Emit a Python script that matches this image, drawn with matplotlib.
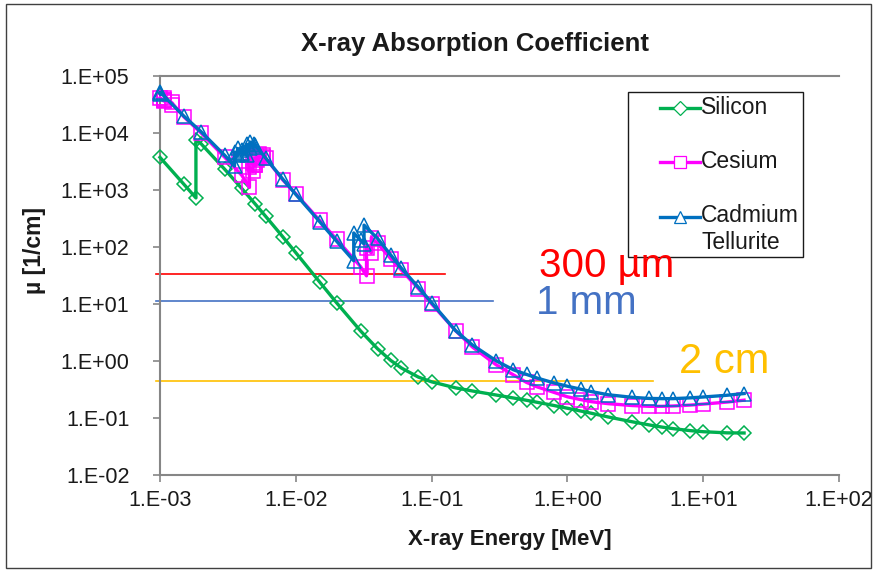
import numpy as np
import matplotlib
matplotlib.use("Agg")
import matplotlib.pyplot as plt
from matplotlib.lines import Line2D
from matplotlib.patches import Rectangle

# ---------------- data (energy in MeV, mu in 1/cm) ----------------
si_energy = [1.0e-3, 1.5e-3, 1.839e-3, 1.839e-3, 2e-3, 3e-3, 4e-3, 5e-3, 6e-3, 8e-3,
             1e-2, 1.5e-2, 2e-2, 3e-2, 4e-2, 5e-2, 6e-2, 8e-2, 0.1, 0.15, 0.2, 0.3,
             0.4, 0.5, 0.6, 0.8, 1.0, 1.25, 1.5, 2.0, 3.0, 4.0, 5.0, 6.0, 8.0, 10.0,
             15.0, 20.0]
si_mu = [3700, 1248, 720, 7440, 6470, 2280, 1055, 571, 342, 151,
         79, 24.1, 10.4, 3.35, 1.63, 1.02, 0.75, 0.52, 0.43, 0.337, 0.297, 0.252,
         0.224, 0.204, 0.188, 0.165, 0.148, 0.1325, 0.121, 0.104, 0.0857, 0.0755, 0.069, 0.065, 0.060, 0.0574,
         0.0548, 0.0545]

cs_energy = [1.0e-3, 1.065e-3, 1.065e-3, 1.072e-3, 1.072e-3, 1.217e-3, 1.217e-3, 1.5e-3, 2e-3,
             3e-3, 4e-3, 4.557e-3, 4.557e-3, 4.852e-3, 4.852e-3, 5.0e-3, 5.012e-3, 5.012e-3,
             5.188e-3, 5.188e-3, 5.359e-3, 5.359e-3, 5.714e-3, 5.714e-3, 6e-3, 8e-3, 1e-2,
             1.5e-2, 2e-2, 3e-2, 3.317e-2, 3.317e-2, 3.598e-2, 3.598e-2, 4e-2, 5e-2, 6e-2,
             8e-2, 0.1, 0.15, 0.2, 0.3, 0.4, 0.5, 0.6, 0.8, 1.0, 1.25, 1.5, 2.0, 3.0, 4.0,
             5.0, 6.0, 8.0, 10.0, 15.0, 20.0]
cs_mu = [41000, 36000, 38000, 37500, 40000, 31000, 34000, 19000, 10000,
         3700, 1800, 1100, 2500, 2100, 2900, 2700, 2700, 3600,
         3300, 3900, 3600, 4200, 3700, 4100, 3600, 1500, 850,
         290, 135, 45, 31, 95, 78, 145, 115, 62, 39,
         18.5, 10.0, 3.4, 1.75, 0.85, 0.57, 0.42, 0.35, 0.28, 0.235, 0.21, 0.193, 0.178, 0.165, 0.16,
         0.16, 0.162, 0.168, 0.175, 0.19, 0.205]

cdte_energy = [1.0e-3, 1.006e-3, 1.006e-3, 1.5e-3, 2e-3, 3e-3, 3.538e-3, 3.538e-3, 3.727e-3,
               3.727e-3, 4.0e-3, 4.018e-3, 4.018e-3, 4.341e-3, 4.341e-3, 4.612e-3, 4.612e-3,
               4.939e-3, 4.939e-3, 5e-3, 6e-3, 8e-3, 1e-2, 1.5e-2, 2e-2, 2.671e-2, 2.671e-2,
               3e-2, 3.181e-2, 3.181e-2, 4e-2, 5e-2, 6e-2, 8e-2, 0.1, 0.15, 0.2, 0.3, 0.4,
               0.5, 0.6, 0.8, 1.0, 1.25, 1.5, 2.0, 3.0, 4.0, 5.0, 6.0, 8.0, 10.0, 15.0, 20.0]
cdte_mu = [49000, 47000, 51000, 19500, 10500, 4000, 2600, 4600, 4000,
           5300, 4400, 4300, 5000, 4100, 6300, 5400, 6800,
           5700, 6400, 6200, 3600, 1550, 830, 275, 125, 57, 175,
           130, 112, 240, 140, 72, 42, 19.5, 10.5, 3.4, 1.9, 1.0, 0.7,
           0.58, 0.5, 0.41, 0.36, 0.32, 0.29, 0.255, 0.23, 0.22, 0.218, 0.218, 0.225, 0.233, 0.25, 0.268]

series_names = ["Silicon", "Cesium", "Cadmium\nTellurite"]
series_colors = ["#00B050", "#FF00FF", "#0070C0"]
series_markers = ["D", "s", "^"]

thickness_labels = ["300 \u00b5m", "1 mm", "2 cm"]
thickness_mu = [34, 11.4, 0.445]
thickness_xend = [0.126, 0.283, 4.3]
thickness_colors = ["#FF0000", "#4472C4", "#FFC000"]

x_ticks = [1e-3, 1e-2, 1e-1, 1e0, 1e1, 1e2]
y_ticks = [1e-2, 1e-1, 1e0, 1e1, 1e2, 1e3, 1e4, 1e5]

# ---------------- figure ----------------
W, H = 877, 573
fig = plt.figure(figsize=(W / 100, H / 100), dpi=100)
FONT = "Liberation Sans"
plt.rcParams["font.family"] = [FONT, "DejaVu Sans"]

def fx(px):
    return px / W

def fy(py):
    return 1 - py / H

ax = fig.add_axes([fx(160), fy(475), fx(839) - fx(160), fy(75.7) - fy(475)])
ax.set_xscale("log")
ax.set_yscale("log")
ax.set_xlim(1e-3, 1e2)
ax.set_ylim(1e-2, 1e5)

# thickness reference lines
for mu, xe, c in zip(thickness_mu, thickness_xend, thickness_colors):
    ax.plot([9.3e-4, xe], [mu, mu], color=c, lw=1.2, clip_on=False, zorder=2)

data = [(si_energy, si_mu), (cs_energy, cs_mu), (cdte_energy, cdte_mu)]
msizes = [7.5, 9.5, 9.5]
for (e, m), c, mk, ms in zip(data, series_colors, series_markers, msizes):
    ax.plot(e, m, color=c, lw=2.4, marker=mk, ms=ms, mfc="none", mec=c, mew=1.1,
            zorder=3, clip_on=False)

def fmt(v):
    return "1.E%+03d" % int(round(np.log10(v)))

ax.set_xticks(x_ticks)
ax.set_xticklabels([fmt(v) for v in x_ticks])
ax.set_yticks(y_ticks)
ax.set_yticklabels([fmt(v) for v in y_ticks])
ax.minorticks_off()
ax.tick_params(axis="both", direction="out", length=5, width=1.2, color="#868686",
               labelsize=15.5, labelcolor="#1a1a1a")
ax.tick_params(axis="y", pad=17)
ax.tick_params(axis="x", pad=6)
for s in ["left", "bottom", "top"]:
    ax.spines[s].set_color("#868686")
    ax.spines[s].set_linewidth(1.5)
ax.spines["right"].set_visible(False)

# titles
fig.text(fx(475), fy(44), "X-ray Absorption Coefficient", ha="center", va="center",
         fontsize=18.5, fontweight="bold", color="#1a1a1a")
fig.text(fx(510), fy(540), "X-ray Energy [MeV]", ha="center", va="center",
         fontsize=16, fontweight="bold", color="#1a1a1a")
fig.text(fx(35), fy(251), "\u00b5 [1/cm]", ha="center", va="center", rotation=90,
         fontsize=16.5, fontweight="bold", color="#1a1a1a")

# thickness labels
label_pos = [(607, 266), (586, 303), (724, 362)]
label_sizes = [29, 29, 30]
for t, (px, py), c, fs in zip(thickness_labels, label_pos, thickness_colors, label_sizes):
    fig.text(fx(px), fy(py), t, ha="center", va="center", fontsize=fs, color=c)

# manual legend
fig.add_artist(Rectangle((fx(628), fy(257)), fx(803) - fx(628), fy(92) - fy(257),
                         transform=fig.transFigure, fill=False, ec="#1a1a1a", lw=1.0))
leg_y = [108, 162, 217]
for name, c, mk, ms, ly in zip(series_names, series_colors, series_markers, msizes, leg_y):
    fig.add_artist(Line2D([fx(660), fx(700)], [fy(ly), fy(ly)], transform=fig.transFigure,
                          color=c, lw=2.4))
    fig.add_artist(Line2D([fx(680)], [fy(ly)], transform=fig.transFigure, marker=mk,
                          ms=ms * 0.9, mfc="white", mec=c, mew=0.9, lw=0))
    if "\n" in name:
        fig.text(fx(701), fy(ly - 13), name, ha="left", va="top", fontsize=16.5,
                 color="#1a1a1a", linespacing=1.2)
    else:
        fig.text(fx(701), fy(ly), name, ha="left", va="center", fontsize=16.5,
                 color="#1a1a1a")

# outer border
fig.add_artist(Rectangle((fx(6), fy(568)), fx(871) - fx(6), fy(4) - fy(568),
                         transform=fig.transFigure, fill=False, ec="#404040", lw=1.0))

fig.savefig("out.png", dpi=100)
